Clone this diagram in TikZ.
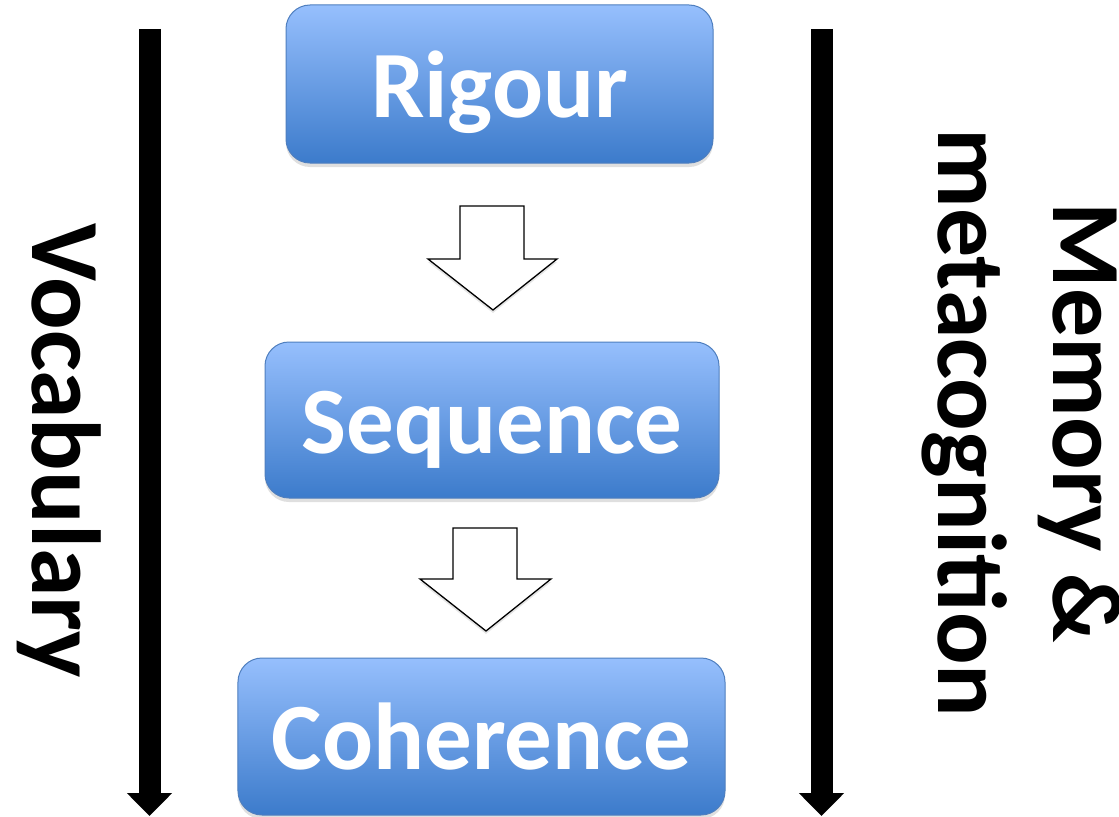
\documentclass[tikz,border=0pt]{standalone}
\usepackage{fontspec}
\setmainfont{Carlito}
\usetikzlibrary{shadows,arrows.meta}
\definecolor{boxtop}{HTML}{96BFFD}
\definecolor{boxbot}{HTML}{3C7BCB}
\definecolor{boxline}{HTML}{4F7FBF}
\tikzset{
  stagebox/.style={draw=boxline, line width=1bp, rounded corners=24bp,
    top color=boxtop, bottom color=boxbot, text=white,
    font=\fontsize{95bp}{95bp}\selectfont\bfseries,
    text height=66bp, text depth=0pt, inner sep=0pt,
    drop shadow={shadow xshift=0bp, shadow yshift=-4bp, opacity=0.25}},
  flowarrow/.style={draw=black, line width=1.3bp, fill=white, line join=miter,
    drop shadow={shadow xshift=0bp, shadow yshift=-3bp, opacity=0.2}},
  sidearrow/.style={line width=22bp, -{Triangle[width=44bp,length=23bp]}},
  sidelabel/.style={rotate=-90, anchor=base, inner sep=0pt,
    font=\fontsize{98bp}{115bp}\selectfont\bfseries}
}
\begin{document}
\begin{tikzpicture}[x=1bp,y=-1bp]
\useasboundingbox[fill=white] (0,0) rectangle (1119,817);
% stage boxes
\node[stagebox, minimum width=427bp, minimum height=158bp] (rig) at (499.5,84) {Rigour};
\node[stagebox, minimum width=454bp, minimum height=156bp] (seq) at (492,420) {Sequence};
\node[stagebox, minimum width=487bp, minimum height=157bp] (coh) at (481.5,736.5) {Coherence};
% block arrows between stages
\draw[flowarrow] (460,206) -- (524,206) -- (524,259) -- (557,259) -- (493,310) -- (428,259) -- (460,259) -- cycle;
\draw[flowarrow] (453,528) -- (517,528) -- (517,579) -- (551,579) -- (486,631) -- (420,579) -- (453,579) -- cycle;
% side arrows
\coordinate (ltop) at (149.5,29);
\coordinate (lbot) at (149.5,816);
\coordinate (rtop) at (821.5,29);
\coordinate (rbot) at (821.5,816);
\draw[sidearrow] (ltop) -- (lbot);
\draw[sidearrow] (rtop) -- (rbot);
% side labels
\node[sidelabel] (voc) at (32,451) {Vocabulary};
\node[sidelabel, align=center] (mem) at (938,423) {Memory \&\\metacognition};
\end{tikzpicture}
\end{document}
